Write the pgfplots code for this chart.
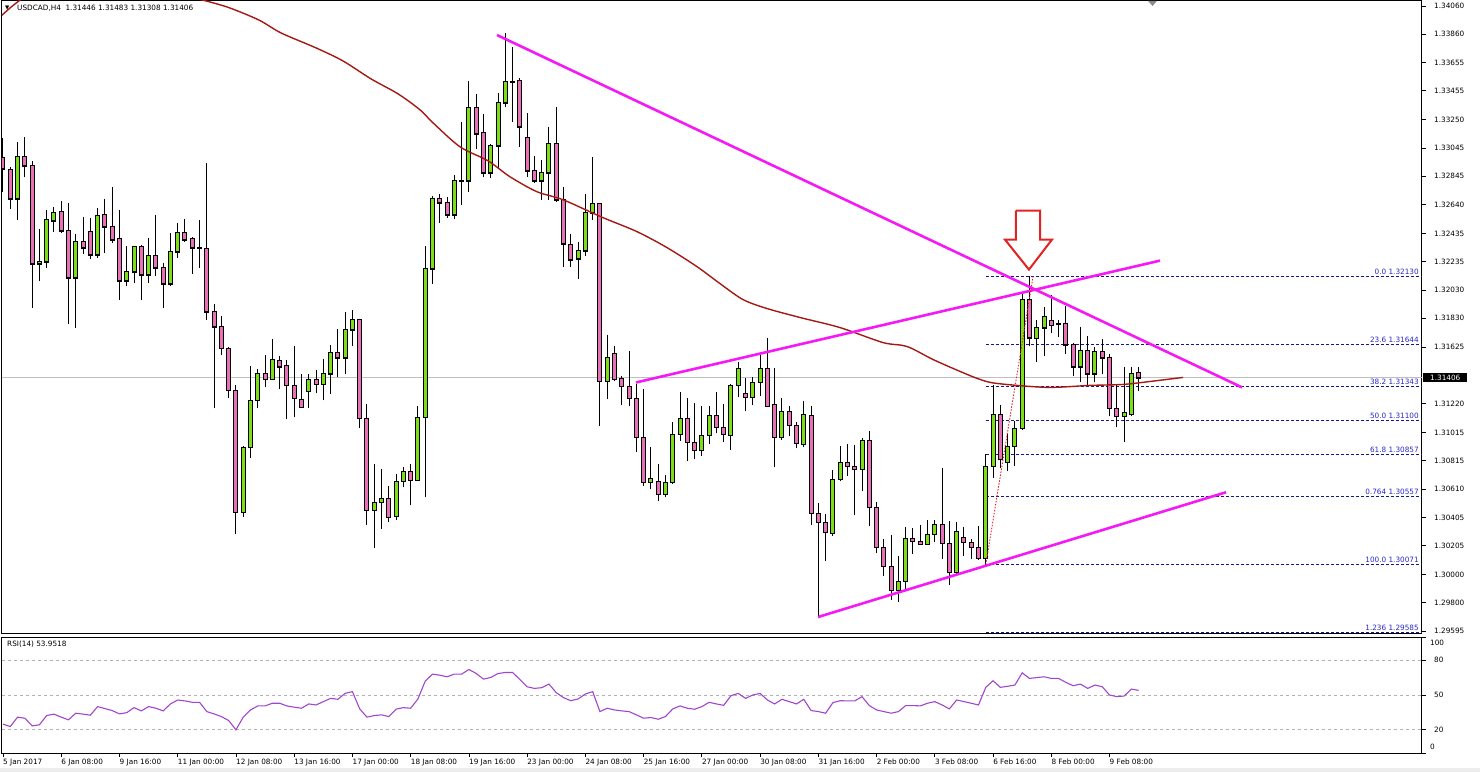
\documentclass[border=0pt]{standalone}
\usepackage{fontspec}
\setmainfont{DejaVu Sans}
\usepackage{pgfplots}
\usepackage{pgfplotstable}
\pgfplotsset{compat=1.18}
\definecolor{bull}{RGB}{124,222,22}
\definecolor{bear}{RGB}{232,112,182}
\definecolor{tl}{RGB}{245,25,245}
\definecolor{ma}{RGB}{165,25,20}
\definecolor{fib}{RGB}{20,20,150}
\definecolor{fibtxt}{RGB}{40,40,200}
\definecolor{rsi}{RGB}{160,70,205}
\definecolor{arrowred}{RGB}{225,35,35}
\newcommand{\lab}{\fontsize{7.3}{8.5}\selectfont}

\pgfplotstableread{
i o h l c
2 1.32684 1.33091 1.32534 1.32984
5 1.32221 1.32470 1.32099 1.32235
6 1.32235 1.32606 1.32192 1.32534
7 1.32527 1.32627 1.32449 1.32584
10 1.32121 1.32435 1.31764 1.32378
13 1.32285 1.32620 1.32263 1.32563
17 1.32099 1.32349 1.32064 1.32164
18 1.32164 1.32349 1.32085 1.32342
20 1.32142 1.32406 1.32085 1.32278
23 1.32078 1.32442 1.32064 1.32306
24 1.32306 1.32513 1.32263 1.32442
33 1.30445 1.30916 1.30410 1.30909
34 1.30909 1.31493 1.30830 1.31244
35 1.31244 1.31465 1.31187 1.31436
37 1.31394 1.31679 1.31387 1.31536
42 1.31308 1.31429 1.31187 1.31394
44 1.31358 1.31543 1.31244 1.31436
45 1.31436 1.31636 1.31287 1.31586
47 1.31550 1.31878 1.31436 1.31750
48 1.31750 1.31893 1.31629 1.31821
51 1.30460 1.30788 1.30189 1.30517
52 1.30517 1.30752 1.30324 1.30545
54 1.30417 1.30716 1.30388 1.30666
55 1.30666 1.30766 1.30624 1.30738
57 1.30673 1.31201 1.30666 1.31123
58 1.31123 1.32349 1.30552 1.32185
59 1.32185 1.32706 1.32078 1.32684
62 1.32570 1.32855 1.32542 1.32812
64 1.32812 1.33525 1.32734 1.33333
67 1.32870 1.33076 1.32834 1.33062
68 1.33062 1.33440 1.32905 1.33369
69 1.33369 1.33868 1.33340 1.33518
74 1.32812 1.32962 1.32677 1.32870
75 1.32870 1.33197 1.32677 1.33076
79 1.32256 1.32378 1.32114 1.32313
80 1.32313 1.32720 1.32278 1.32584
81 1.32584 1.32984 1.32534 1.32648
83 1.31379 1.31714 1.31251 1.31550
89 1.30659 1.30909 1.30609 1.30688
91 1.30574 1.30709 1.30552 1.30659
92 1.30659 1.31087 1.30645 1.31001
93 1.31001 1.31301 1.30952 1.31116
96 1.30887 1.31201 1.30845 1.30994
97 1.30994 1.31201 1.30930 1.31137
100 1.30994 1.31358 1.30887 1.31351
101 1.31351 1.31515 1.31265 1.31472
103 1.31265 1.31408 1.31208 1.31372
104 1.31372 1.31593 1.31272 1.31472
107 1.30980 1.31258 1.30959 1.31165
110 1.30930 1.31237 1.30909 1.31144
114 1.30296 1.30745 1.30274 1.30681
115 1.30681 1.30916 1.30666 1.30802
118 1.30752 1.30973 1.30595 1.30959
123 1.29889 1.30132 1.29804 1.29953
124 1.29953 1.30338 1.29896 1.30260
127 1.30217 1.30388 1.30210 1.30288
128 1.30288 1.30388 1.30231 1.30360
131 1.30018 1.30374 1.30003 1.30310
135 1.30117 1.30859 1.30071 1.30773
136 1.30773 1.31351 1.30688 1.31144
138 1.30802 1.31001 1.30738 1.30916
139 1.30916 1.31094 1.30773 1.31044
140 1.31044 1.32021 1.31030 1.31964
142 1.31686 1.31821 1.31515 1.31764
143 1.31764 1.31914 1.31558 1.31843
148 1.31486 1.31771 1.31372 1.31600
150 1.31436 1.31622 1.31372 1.31593
154 1.31130 1.31486 1.30944 1.31158
155 1.31144 1.31486 1.31130 1.31436
}\bulltab

\pgfplotstableread{
i o h l c
0 1.32976 1.33119 1.32734 1.32898
1 1.32891 1.32912 1.32613 1.32684
3 1.32984 1.33126 1.32841 1.32919
4 1.32919 1.32955 1.31907 1.32221
8 1.32591 1.32670 1.32442 1.32456
9 1.32456 1.32656 1.31786 1.32121
11 1.32378 1.32556 1.32292 1.32335
12 1.32449 1.32549 1.32256 1.32285
14 1.32570 1.32684 1.32299 1.32484
15 1.32484 1.32770 1.32370 1.32392
16 1.32399 1.32606 1.31964 1.32099
19 1.32342 1.32356 1.31964 1.32142
21 1.32278 1.32570 1.32135 1.32192
22 1.32192 1.32228 1.31907 1.32078
25 1.32442 1.32542 1.32378 1.32392
26 1.32399 1.32413 1.32149 1.32335
27 1.32335 1.32534 1.32192 1.32335
28 1.32328 1.32941 1.31821 1.31878
29 1.31878 1.31935 1.31187 1.31771
30 1.31771 1.31850 1.31565 1.31615
31 1.31615 1.31622 1.31258 1.31315
32 1.31315 1.31351 1.30288 1.30445
36 1.31436 1.31565 1.31337 1.31394
38 1.31529 1.31558 1.31322 1.31486
39 1.31493 1.31529 1.31108 1.31351
40 1.31351 1.31629 1.31123 1.31258
41 1.31251 1.31429 1.31187 1.31194
43 1.31394 1.31458 1.31294 1.31358
46 1.31586 1.31757 1.31408 1.31550
49 1.31821 1.31828 1.31044 1.31116
50 1.31116 1.31215 1.30353 1.30460
53 1.30545 1.30631 1.30374 1.30410
56 1.30738 1.30788 1.30495 1.30673
60 1.32684 1.32720 1.32513 1.32656
61 1.32656 1.32698 1.32549 1.32570
63 1.32812 1.33233 1.32641 1.32812
65 1.33333 1.33433 1.33041 1.33148
66 1.33155 1.33290 1.32841 1.32870
70 1.33518 1.33768 1.33233 1.33518
71 1.33525 1.33547 1.33055 1.33197
72 1.33119 1.33297 1.32841 1.32884
73 1.32884 1.32991 1.32798 1.32812
76 1.33076 1.33340 1.32663 1.32677
77 1.32677 1.32770 1.32199 1.32363
78 1.32356 1.32435 1.32199 1.32249
82 1.32648 1.32656 1.31058 1.31379
84 1.31579 1.31636 1.31379 1.31394
85 1.31401 1.31415 1.31208 1.31344
86 1.31344 1.31600 1.31201 1.31258
87 1.31258 1.31358 1.30873 1.30980
88 1.30980 1.31322 1.30631 1.30659
90 1.30666 1.30788 1.30524 1.30574
94 1.31116 1.31258 1.30809 1.30944
95 1.30944 1.31222 1.30823 1.30887
98 1.31137 1.31301 1.31009 1.31051
99 1.31051 1.31215 1.30944 1.31001
102 1.31294 1.31401 1.31165 1.31265
105 1.31472 1.31693 1.31194 1.31201
106 1.31215 1.31472 1.30766 1.30980
108 1.31165 1.31201 1.30987 1.31066
109 1.31066 1.31087 1.30902 1.30937
111 1.31137 1.31201 1.30353 1.30438
112 1.30438 1.30509 1.29690 1.30374
113 1.30374 1.30431 1.30096 1.30303
116 1.30802 1.30930 1.30702 1.30773
117 1.30773 1.30923 1.30424 1.30752
119 1.30959 1.31023 1.30345 1.30481
120 1.30481 1.30517 1.30153 1.30196
121 1.30196 1.30253 1.29989 1.30060
122 1.30060 1.30281 1.29818 1.29889
125 1.30260 1.30331 1.30146 1.30239
126 1.30239 1.30353 1.30210 1.30217
129 1.30360 1.30759 1.30110 1.30224
130 1.30224 1.30381 1.29925 1.30018
132 1.30267 1.30338 1.30132 1.30231
133 1.30231 1.30253 1.30110 1.30196
134 1.30196 1.30345 1.30103 1.30117
137 1.31144 1.31208 1.30759 1.30823
141 1.31964 1.32130 1.31629 1.31693
144 1.31814 1.32000 1.31722 1.31779
145 1.31793 1.31821 1.31700 1.31793
146 1.31793 1.31921 1.31572 1.31643
147 1.31643 1.31657 1.31415 1.31486
149 1.31600 1.31707 1.31344 1.31436
151 1.31593 1.31679 1.31429 1.31550
152 1.31550 1.31572 1.31130 1.31187
153 1.31187 1.31351 1.31051 1.31130
156 1.31446 1.31483 1.31308 1.31406
}\beartab

\pgfplotstableread{
i p
-0.41 1.33982
0.96 1.34046
2.34 1.34103
3.7 1.34160
nan nan
22.94 1.34174
26.37 1.34117
28.43 1.34089
31.18 1.34046
35.16 1.33960
38.19 1.33868
43.0 1.33761
46.7 1.33668
50.55 1.33540
54.26 1.33433
57.28 1.33319
59.07 1.33226
62.77 1.33055
66.62 1.32955
69.64 1.32841
73.35 1.32734
76.92 1.32677
82.42 1.32549
87.09 1.32449
91.21 1.32335
95.33 1.32199
98.49 1.32078
101.65 1.31964
104.95 1.31900
109.48 1.31836
114.97 1.31764
120.88 1.31657
124.18 1.31629
127.75 1.31536
131.46 1.31451
134.2 1.31394
136.54 1.31365
143.41 1.31337
149.31 1.31351
153.85 1.31358
157.55 1.31379
162.09 1.31408
}\matab

\pgfplotstableread{
i r
0 24.9
1 22.8
2 30.9
3 30
4 23.4
5 24.3
6 32.3
7 33.5
8 30.9
9 28.6
10 34.3
11 33.5
12 32.6
13 40
14 38.3
15 36.6
16 33.7
17 34.8
18 39.1
19 36.3
20 40
21 38.6
22 36.3
23 42.3
24 45.7
25 44.9
26 43.7
27 43.7
28 35.7
29 33.7
30 31.4
31 28
32 20
33 30.9
34 37.1
35 40.6
36 40.6
37 42.9
38 42.9
39 40.6
40 39.5
41 38.6
42 42.3
43 41.4
44 44.3
45 47.1
46 46.3
47 51.4
48 52.9
49 38
50 30.9
51 32.3
52 32.9
53 31.4
54 37.8
55 39.1
56 38.6
57 46.6
58 62
59 68
60 67.1
61 65.7
62 68
63 68
64 72
65 68.6
66 63.7
67 65.1
68 68.5
69 69.4
70 69.4
71 63.4
72 57.1
73 55.7
74 56.3
75 59.4
76 52
77 47.7
78 45.1
79 46.6
80 50.9
81 52.9
82 35.7
83 38.6
84 37.1
85 36.3
86 35.7
87 32.9
88 30
89 30.6
90 29.1
91 31.4
92 38
93 40.6
94 38.6
95 37.7
96 40
97 43.7
98 42.3
99 41.1
100 49.4
101 51.4
102 47.1
103 50
104 51.4
105 45.7
106 42.3
107 46.3
108 44.3
109 42.3
110 46.3
111 36.6
112 35.7
113 34.3
114 43.4
115 45.1
116 44.9
117 44.9
118 48.6
119 40.9
120 37.1
121 35.7
122 34.3
123 35.7
124 40.9
125 40.9
126 40.6
127 42.9
128 44.3
129 41.4
130 38
131 45.7
132 44.3
133 42.9
134 41.4
135 56.6
136 62.3
137 56.6
138 57.5
139 58.6
140 69.1
141 64.3
142 65
143 65.7
144 64.3
145 64.3
146 60.9
147 58
148 59.4
149 55.7
150 58.6
151 57.1
152 50
153 48.6
154 49.1
155 55.1
156 54
}\rsitab

\pgfplotsset{
  wick/.style={draw=none, mark=none, error bars/.cd, y dir=plus, y explicit,
    error mark=none, error bar style={draw=black, line width=1pt}},
  bodyout/.style={draw=none, mark=none, error bars/.cd, y dir=both, y explicit,
    error mark=none, error bar style={draw=black, line width=5pt}},
  bodyin/.style={draw=none, mark=none, error bars/.cd, y dir=plus, y explicit,
    error mark=none, error bar style={draw=#1, line width=3pt}},
}

\begin{document}
\begin{tikzpicture}
\path[use as bounding box] (0,0) rectangle (1480pt,772pt);
\fill[black!7] (0,0) rectangle (1480pt,4pt);
\begin{axis}[
  at={(2pt,139pt)}, anchor=south west, scale only axis,
  width=1420pt, height=632pt,
  xmin=-0.137, xmax=194.92, ymin=1.29583, ymax=1.34096,
  axis line style={black, line width=1pt},
  xtick=\empty,
  ytick pos=right, yticklabel pos=right,
  ytick={1.34060,1.33860,1.33655,1.33455,1.33250,1.33045,1.32845,1.32640,1.32435,1.32235,1.32030,1.31830,1.31625,1.31220,1.31015,1.30815,1.30610,1.30405,1.30205,1.30000,1.29800,1.29595},
  yticklabels={1.34060,1.33860,1.33655,1.33455,1.33250,1.33045,1.32845,1.32640,1.32435,1.32235,1.32030,1.31830,1.31625,1.31220,1.31015,1.30815,1.30610,1.30405,1.30205,1.30000,1.29800,1.29595},
  scaled y ticks=false,
  tick align=outside, major tick length=4pt,
  every tick/.style={black, line width=0.8pt},
  yticklabel style={font=\lab, anchor=west, inner sep=0pt, xshift=8pt},
  clip mode=individual,
  unbounded coords=jump,
]
% current price line
\addplot[black!25, line width=1pt] coordinates {(-1,1.31406) (196,1.31406)};
% fibonacci levels
\foreach \lv in {1.32130,1.31644,1.31343,1.31100,1.30857,1.30557,1.30071,1.29585}{
  \edef\tmp{\noexpand\addplot[fib, line width=0.8pt, dash pattern=on 3pt off 2pt] coordinates {(135,\lv) (196,\lv)};}
  \tmp
}
% candles: wicks
\addplot[wick] table[x=i, y=l, y error plus expr={\thisrow{h}-\thisrow{l}}] {\bulltab};
\addplot[wick] table[x=i, y=l, y error plus expr={\thisrow{h}-\thisrow{l}}] {\beartab};
% bodies outline
\addplot[bodyout] table[x=i, y=o, y error plus expr={\thisrow{c}-\thisrow{o}+0.000036}, y error minus expr={0.000036}] {\bulltab};
\addplot[bodyout] table[x=i, y=c, y error plus expr={\thisrow{o}-\thisrow{c}+0.000036}, y error minus expr={0.000036}] {\beartab};
% bodies fill
\addplot[bodyin=bull] table[x=i, y expr={\thisrow{o}+0.000036}, y error plus expr={max(\thisrow{c}-\thisrow{o}-0.000072,0)}] {\bulltab};
\addplot[bodyin=bear] table[x=i, y expr={\thisrow{c}+0.000036}, y error plus expr={max(\thisrow{o}-\thisrow{c}-0.000072,0)}] {\beartab};
% moving average
\addplot[ma, line width=1.4pt, smooth] table[x=i, y=p] {\matab};
% trend lines
\addplot[tl, line width=2.6pt] coordinates {(67.86,1.33853) (170.19,1.31337)};
\addplot[tl, line width=2.6pt] coordinates {(86.95,1.31372) (158.93,1.32242)};
\addplot[tl, line width=2.6pt] coordinates {(111.95,1.29697) (168.0,1.30588)};
% fibo base line
\addplot[arrowred, line width=0.9pt, dash pattern=on 1.5pt off 1.5pt] coordinates {(135,1.30071) (141.5,1.32130)};
% arrow
\addplot[arrowred, line width=2pt, line join=miter] coordinates {(139.15,1.32599) (142.45,1.32599) (142.45,1.32392) (144.09,1.32392) (140.93,1.32178) (137.64,1.32392) (139.15,1.32392) (139.15,1.32599)};
% shift marker
\addplot[fill=black!45, draw=none] coordinates {(157.3,1.34096) (158.5,1.34096) (157.9,1.34060) (157.3,1.34096)};
% texts
\node[anchor=west, inner sep=0pt, xshift=3pt, yshift=-7pt] at (rel axis cs:0,1) {\fontsize{5.5}{6}\selectfont ▼};
\node[anchor=west, inner sep=0pt, xshift=15pt, yshift=-7pt] at (rel axis cs:0,1) {\lab USDCAD,H4\ \ 1.31446 1.31483 1.31308 1.31406};
\foreach \lv/\tx in {1.32130/0.0 1.32130, 1.31644/23.6 1.31644, 1.31343/38.2 1.31343, 1.31100/50.0 1.31100, 1.30857/61.8 1.30857, 1.30557/0.764 1.30557, 1.30071/100.0 1.30071, 1.29585/1.236 1.29585}{
  \edef\tmp{\noexpand\node[anchor=south east, inner sep=0pt, text=fibtxt, xshift=-3pt, yshift=1.5pt] at (axis cs:194.92,\lv) {\noexpand\lab \tx};}
  \tmp
}
\node[anchor=west, fill=black, text=white, inner xsep=7pt, inner ysep=2pt, xshift=1pt] at (axis cs:194.92,1.31406) {\lab 1.31406};
\end{axis}

\begin{axis}[
  at={(2pt,19pt)}, anchor=south west, scale only axis,
  width=1420pt, height=116pt,
  xmin=-0.137, xmax=194.92, ymin=0, ymax=100,
  axis line style={black, line width=1pt},
  xtick pos=left, ytick pos=right, yticklabel pos=right,
  xtick={0,8,16,24,32,40,48,56,64,72,80,88,96,104,112,120,128,136,144,152},
  xticklabels={5 Jan 2017, 6 Jan 08:00, 9 Jan 16:00, 11 Jan 00:00, 12 Jan 08:00, 13 Jan 16:00, 17 Jan 00:00, 18 Jan 08:00, 19 Jan 16:00, 23 Jan 00:00, 24 Jan 08:00, 25 Jan 16:00, 27 Jan 00:00, 30 Jan 08:00, 31 Jan 16:00, 2 Feb 00:00, 3 Feb 08:00, 6 Feb 16:00, 8 Feb 00:00, 9 Feb 08:00},
  ytick={0,20,50,80,100}, yticklabels={,20,50,80,},
  tick align=outside, major tick length=4pt,
  every tick/.style={black, line width=0.8pt},
  xticklabel style={font=\lab, anchor=north west, inner sep=0pt, yshift=-2pt},
  yticklabel style={font=\lab, anchor=west, inner sep=0pt, xshift=8pt},
  clip mode=individual,
]
\addplot[black!30, line width=0.8pt, dash pattern=on 3pt off 3pt] coordinates {(-1,80) (196,80)};
\addplot[black!30, line width=0.8pt, dash pattern=on 3pt off 3pt] coordinates {(-1,50) (196,50)};
\addplot[black!30, line width=0.8pt, dash pattern=on 3pt off 3pt] coordinates {(-1,20) (196,20)};
\addplot[rsi, line width=1.1pt] table[x=i, y=r] {\rsitab};
\node[anchor=north west, inner sep=0pt, xshift=5pt, yshift=-4pt] at (rel axis cs:0,1) {\lab RSI(14) 53.9518};
\node[anchor=west, inner sep=0pt, xshift=8pt] at (axis cs:194.92,95) {\lab 100};
\node[anchor=west, inner sep=0pt, xshift=8pt] at (axis cs:194.92,5) {\lab 0};
\end{axis}
\end{tikzpicture}
\end{document}
